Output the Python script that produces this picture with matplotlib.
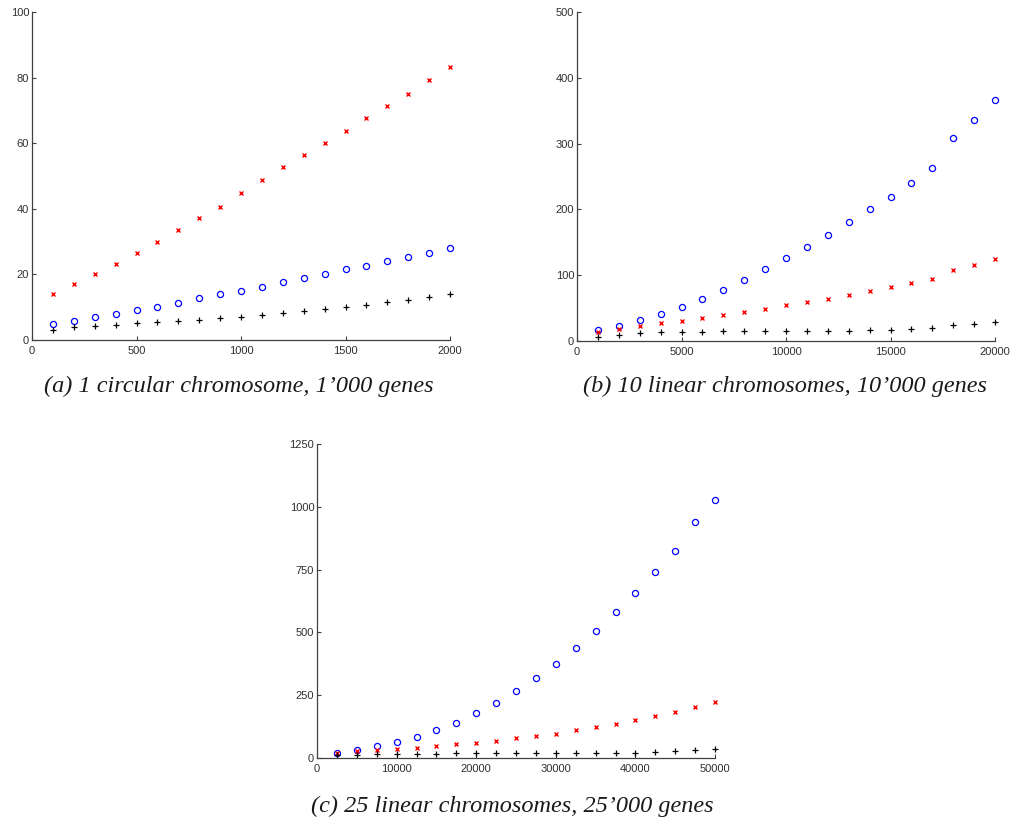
import matplotlib
matplotlib.use("Agg")
import matplotlib.pyplot as plt
import numpy as np

# Panel (a): 1 circular chromosome, 1'000 genes
xa = list(range(100, 2001, 100))
a_red = [13.9, 17.2, 20.2, 23.1, 26.4, 30.0, 33.4, 37.2, 40.7, 44.8,
         48.7, 52.7, 56.3, 60.1, 63.7, 67.7, 71.4, 75.1, 79.2, 83.3]
a_blue = [4.8, 5.9, 6.9, 7.8, 9.1, 10.2, 11.4, 12.7, 13.9, 15.0,
          16.3, 17.6, 19.0, 20.2, 21.5, 22.7, 24.0, 25.2, 26.6, 28.0]
a_black = [3.2, 3.9, 4.4, 4.7, 5.1, 5.4, 5.8, 6.2, 6.6, 7.1,
           7.6, 8.3, 8.8, 9.4, 10.1, 10.8, 11.5, 12.2, 13.0, 13.9]

# Panel (b): 10 linear chromosomes, 10'000 genes
xb = list(range(1000, 20001, 1000))
b_red = [13.2, 17.7, 22.8, 26.9, 30.9, 35.5, 39.6, 44.6, 49.2, 54.3,
         59.3, 64.4, 70.5, 76.1, 82.2, 88.2, 94.8, 108.0, 115.1, 124.2]
b_blue = [17.2, 23.3, 31.4, 41.6, 51.7, 63.9, 78.1, 92.8, 109.0, 125.8,
          143.0, 161.3, 181.5, 200.3, 219.6, 240.4, 263.2, 308.8, 336.2, 365.6]
b_black = [6.6, 9.6, 11.7, 13.2, 13.7, 14.2, 14.7, 14.7, 14.7, 14.7,
           15.2, 15.2, 15.7, 16.2, 17.2, 18.3, 19.3, 23.8, 25.4, 28.4]

# Panel (c): 25 linear chromosomes, 25'000 genes
xc = list(range(2500, 50001, 2500))
c_red = [18.6, 26.6, 31.9, 37.2, 41.2, 47.8, 54.5, 61.1, 69.1, 78.4,
         87.7, 97.0, 110.3, 122.2, 135.5, 151.4, 167.4, 183.3, 203.2, 221.8]
c_blue = [21.3, 33.2, 46.5, 63.8, 85.0, 111.6, 140.8, 178.0, 220.5, 265.7,
          317.5, 373.3, 438.4, 506.1, 580.5, 657.5, 738.6, 824.9, 937.8, 1028.2]
c_black = [10.6, 13.3, 14.6, 15.9, 17.3, 17.3, 18.6, 18.6, 18.6, 18.6,
           18.6, 18.6, 18.6, 18.6, 19.9, 19.9, 23.9, 27.9, 33.2, 37.2]

captions = ["(a) 1 circular chromosome, 1\u2019000 genes",
            "(b) 10 linear chromosomes, 10\u2019000 genes",
            "(c) 25 linear chromosomes, 25\u2019000 genes"]

a_xticks = [0, 500, 1000, 1500, 2000]
a_yticks = [0, 20, 40, 60, 80, 100]
b_xticks = [0, 5000, 10000, 15000, 20000]
b_yticks = [0, 100, 200, 300, 400, 500]
c_xticks = [0, 10000, 20000, 30000, 40000, 50000]
c_yticks = [0, 250, 500, 750, 1000, 1250]

W, H = 1013, 834
fig = plt.figure(figsize=(W / 100, H / 100), dpi=100)

def px_axes(l, r, t, b):
    return fig.add_axes([l / W, 1 - b / H, (r - l) / W, (b - t) / H])

panels = [
    (px_axes(32, 450, 12, 340), xa, a_red, a_blue, a_black, a_xticks, a_yticks),
    (px_axes(577, 995, 12, 341), xb, b_red, b_blue, b_black, b_xticks, b_yticks),
    (px_axes(317, 715, 444, 758), xc, c_red, c_blue, c_black, c_xticks, c_yticks),
]

tick_color = "#303030"
for ax, x, red, blue, black, xt, yt in panels:
    ax.plot(x, blue, linestyle="none", marker="o", markersize=4.4,
            markerfacecolor="none", markeredgecolor="#0000ff",
            markeredgewidth=0.9, clip_on=False)
    ax.plot(x, red, linestyle="none", marker="x", markersize=3.2,
            color="#ff0000", markeredgewidth=1.0, clip_on=False)
    ax.plot(x, black, linestyle="none", marker="+", markersize=5,
            color="black", markeredgewidth=0.9, clip_on=False)
    ax.set_xlim(xt[0], xt[-1])
    ax.set_ylim(yt[0], yt[-1])
    ax.set_xticks(xt)
    ax.set_yticks(yt)
    ax.set_xticklabels([str(v) for v in xt])
    ax.set_yticklabels([str(v) for v in yt])
    for s in ("top", "right"):
        ax.spines[s].set_visible(False)
    for s in ("left", "bottom"):
        ax.spines[s].set_color("#404040")
        ax.spines[s].set_linewidth(0.9)
    ax.tick_params(direction="in", length=3, width=0.8, color="#404040",
                   labelsize=8, labelcolor=tick_color)
    ax.tick_params(axis="x", pad=4)
    ax.tick_params(axis="y", pad=2)
    for lbl in ax.get_xticklabels() + ax.get_yticklabels():
        lbl.set_fontfamily("Liberation Sans")
    ax.patch.set_visible(False)

cap_kw = dict(ha="center", va="center", fontsize=17.5, style="italic",
              family="Liberation Serif", color="#1a1a1a")
fig.text(239 / W, 1 - 386 / H, captions[0], **cap_kw)
fig.text(785 / W, 1 - 386 / H, captions[1], **cap_kw)
fig.text(512 / W, 1 - 806 / H, captions[2], **cap_kw)

fig.savefig("out.png", dpi=100)
